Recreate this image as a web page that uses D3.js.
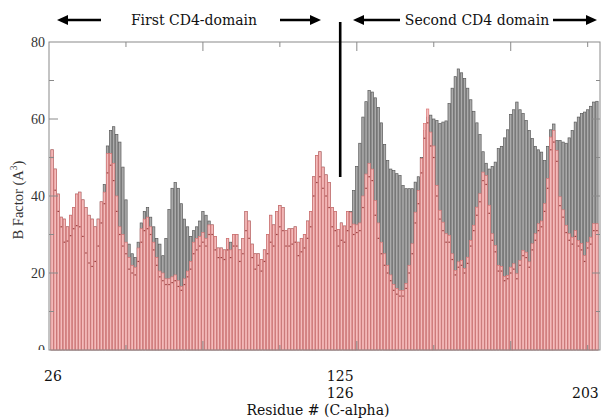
<!DOCTYPE html>
<html>
<head>
<meta charset="utf-8">
<script src="https://cdn.jsdelivr.net/npm/d3@7"></script>
<style>
  body { margin: 0; background: #fff; }
  svg { display: block; }
</style>
</head>
<body>
<svg id="chart" width="606" height="419"></svg>
<script>
/* --- data, residue 26..203 --- */
var firstResidue = 26;
var lastResidue = 203;

// grey bars (behind)
var greyB = [
  52, 47, 40.5, 34.5, 34, 32, 35, 37, 40.5, 41,
  39, 37, 35, 34, 32, 34, 38.5, 43, 53, 57,
  58, 56, 54, 47.5, 39, 27.5, 25, 24, 28, 33,
  36, 37, 34.5, 32, 29, 27.5, 24.5, 29, 36.5, 42,
  43.5, 42, 38, 34, 32, 29.5, 31, 32, 33.5, 36,
  35, 33.5, 32.5, 29.5, 26.5, 26.5, 26, 29, 28, 30,
  30, 26, 29, 36, 33.5, 27.5, 25, 25, 23.5, 26,
  30, 35, 32.5, 36, 37.5, 37, 31, 31.5, 31.5, 32,
  28, 29, 30, 33.5, 36, 45, 50.5, 51.5, 47.5, 45.5,
  43.5, 37, 36, 31.3, 33, 32.2, 36, 36, 41.4, 47.7,
  53.7, 60.5, 64.5, 67.4, 67, 65.5, 63, 59, 53.4, 49.2,
  47, 46.6, 45.8, 45.3, 42.7, 41.9, 41.9, 41.9, 43.6, 45,
  50, 57, 60.5, 61, 60, 59.6, 58.8, 59.2, 59.5, 64,
  68, 71, 73, 72, 70.5, 68, 65, 62, 59, 56,
  51.5, 48.5, 47, 47.7, 48.8, 52.3, 52.9, 55.1, 57.2, 61.2,
  62.4, 64.4, 62.4, 61.4, 59.6, 57, 54.9, 52.9, 52, 51.4,
  49.2, 52.9, 57.2, 58.7, 54.4, 54.4, 54, 53.7, 55.1, 57,
  59.2, 60.5, 61.4, 61.8, 62.4, 63.3, 64.4, 64.6
];

// red bars (front)
var redB = [
  52, 47, 40.5, 34.5, 34, 32, 35, 37, 40.5, 41,
  39, 37, 35, 34, 32, 34, 38.5, 41, 51, 51,
  48.5, 40, 32, 30, 28, 24, 22, 21.5, 26.5, 31.5,
  34, 34.5, 32, 28, 24, 20.5, 20, 18.5, 18.5, 19,
  19.5, 18, 16.5, 18.5, 20.5, 23, 28, 29, 29.5, 30.5,
  29, 32.5, 32.5, 29.5, 26.5, 26.5, 26, 29, 26, 30,
  30, 26, 29, 36, 33.5, 27.5, 25, 25, 23.5, 26,
  30, 35, 32.5, 36, 37.5, 37, 31, 31.5, 31.5, 32,
  28, 29, 30, 33.5, 36, 45, 50.5, 51.5, 47.5, 45.5,
  43.5, 37, 36, 31.3, 33, 32.2, 36, 35.8, 32.7, 32.5,
  33, 40, 45.7, 48.5, 47, 38.8, 33, 28, 25, 22,
  19.5, 17, 16, 15.5, 15.5, 17.3, 22, 27.6, 35.8, 41.4,
  49.7, 58.8, 62.6, 56.6, 53, 42.7, 36.3, 33.2, 30.2, 29.8,
  25, 20.7, 22.9, 23.3, 21.2, 24.1, 28.5, 32.4, 37.1, 40.6,
  46.2, 45.3, 37.6, 30.2, 27.1, 22, 21.7, 19.1, 19.4, 21.5,
  22.4, 19.8, 23.3, 25.9, 25.4, 22.9, 27.6, 30.2, 32.8, 33.5,
  38, 44.5, 55.3, 57, 51.8, 39.8, 36.4, 32.4, 30.2, 29.3,
  31, 28.4, 27.7, 24.5, 28, 29.3, 32.8, 32.8
];

// small dark marks inside the red bars
var dotB = [
  50, 41.5, 36, 32, 28, 28.3, 29.7, 31.5, 32.3, 32,
  29.5, 25.2, 22.6, 21.7, 23, 27, 33, 38, 46, 48,
  44, 36, 30, 27, 25, 21, 20, 19.5, 23, 28,
  31, 31.5, 30, 26, 22, 19, 18, 17, 17, 17.5,
  18, 16.5, 15.5, 17, 19, 21, 25, 26, 27, 28,
  27, 30, 30, 26, 24, 24, 23.5, 26, 24, 27,
  27, 23, 25, 31, 29, 24, 21, 22, 20.5, 23,
  25, 28, 27, 30, 32, 31, 27, 27, 27.5, 28,
  24.5, 25.5, 26.5, 29, 32, 40, 43.5, 45, 42, 40,
  37, 32, 31, 27, 28.5, 28, 31, 32, 30, 30.5,
  31, 37, 42, 45, 44, 35, 29, 25, 22, 20,
  18, 15.5, 14.5, 14, 14, 16, 20, 25, 33, 38,
  46, 55, 59, 53, 50, 40, 34, 31, 28, 28,
  23.5, 19.5, 21.5, 22, 20, 22.5, 27, 31, 35, 38.5,
  44, 43, 35.5, 28.5, 25.5, 20.5, 20.5, 18, 18.5, 20,
  21, 18.5, 22, 24.5, 24, 21.5, 26, 28.5, 31, 32,
  36, 42, 52, 54, 49, 37.5, 34.5, 30.5, 28.5, 27.5,
  29.5, 27, 26, 23, 26.5, 27.5, 31, 31
];

var yTicks = [0, 10, 20, 30, 40, 50, 60, 70, 80];
var yLabels = [0, 20, 40, 60, 80];
var xTicks = [50, 75, 100, 125, 150, 175, 200];
var xLongTicks = [75, 125, 175];

// annotations as they sit in the figure
var splitAt = 119.6;
var domainNames = ["First CD4-domain", "Second CD4 domain"];
var xLabels = [
  {text: "26", at: 26.3, row: 0, anchor: "middle"},
  {text: "125", at: splitAt, row: 0, anchor: "middle"},
  {text: "126", at: splitAt, row: 1, anchor: "middle"},
  {text: "203", at: 203.6, row: 1, anchor: "end"}
];

/* --- svg parameters --- */
var plotL = 49, plotR = 600, plotT = 42, plotB = 350;
var svg = d3.select("#chart");

var residues = d3.range(firstResidue, lastResidue + 1);
var rows = residues.map((r, i) => ({r: r, grey: greyB[i], red: redB[i], dot: dotB[i]}));

var x = d3.scaleLinear().domain([25, 204]).range([plotL, plotR]);
var y = d3.scaleLinear().domain([0, 80]).range([plotB, plotT]);
var bw = 2.4;

// grey bars
svg.append("g")
  .attr("fill", "#ababab")
  .attr("stroke", "#5a5a5a")
  .attr("stroke-width", 0.7)
  .selectAll("rect")
  .data(rows)
  .join("rect")
  .attr("x", d => x(d.r) - bw / 2)
  .attr("width", bw)
  .attr("y", d => y(d.grey))
  .attr("height", d => plotB - y(d.grey));

// red bars
svg.append("g")
  .attr("fill", "#f3bcbc")
  .attr("stroke", "#da7272")
  .attr("stroke-width", 0.65)
  .selectAll("rect")
  .data(rows)
  .join("rect")
  .attr("x", d => x(d.r) - bw / 2)
  .attr("width", bw)
  .attr("y", d => y(d.red))
  .attr("height", d => plotB - y(d.red));

// dark marks
svg.append("g")
  .attr("fill", "#a04545")
  .selectAll("rect")
  .data(rows)
  .join("rect")
  .attr("x", d => x(d.r) - 0.8)
  .attr("width", 1.6)
  .attr("y", d => y(d.dot) - 0.6)
  .attr("height", 1.2);

/* --- frame and ticks --- */
var frame = svg.append("g").attr("stroke", "#8a8a8a").attr("stroke-width", 1).attr("fill", "none");
frame.append("rect")
  .attr("x", plotL).attr("y", plotT)
  .attr("width", plotR - plotL).attr("height", plotB - plotT);

frame.append("g").selectAll("line")
  .data(yTicks.slice(1, -1))
  .join("line")
  .attr("x1", plotL).attr("x2", d => plotL + (d % 20 == 0 ? 9 : 5))
  .attr("y1", d => y(d)).attr("y2", d => y(d));
frame.append("g").selectAll("line")
  .data(yTicks.slice(1, -1))
  .join("line")
  .attr("x1", plotR).attr("x2", d => plotR - (d % 20 == 0 ? 8 : 4))
  .attr("y1", d => y(d)).attr("y2", d => y(d));
frame.append("g").selectAll("line")
  .data(xTicks)
  .join("line")
  .attr("x1", d => x(d)).attr("x2", d => x(d))
  .attr("y1", plotT).attr("y2", d => plotT + (xLongTicks.includes(d) ? 9 : 5));
frame.append("g").selectAll("line")
  .data(xTicks)
  .join("line")
  .attr("x1", d => x(d)).attr("x2", d => x(d))
  .attr("y1", plotB).attr("y2", d => plotB - (xLongTicks.includes(d) ? 9 : 5));

// y labels (the 0 is cut at the base line in the figure)
svg.append("clipPath").attr("id", "zeroclip")
  .append("rect").attr("x", 0).attr("y", 0).attr("width", 49).attr("height", plotB);
svg.append("g")
  .attr("font-family", "Liberation Serif, Times New Roman, serif")
  .attr("font-size", 14)
  .attr("fill", "#333")
  .attr("text-anchor", "end")
  .attr("clip-path", "url(#zeroclip)")
  .selectAll("text")
  .data(yLabels)
  .join("text")
  .attr("x", 45)
  .attr("y", d => y(d) + 5)
  .text(d => d);

var yTitle = svg.append("text")
  .attr("transform", "translate(23,200) rotate(-90)")
  .attr("text-anchor", "middle")
  .attr("font-family", "Liberation Serif, Times New Roman, serif")
  .attr("font-size", 14.5)
  .attr("fill", "#333");
yTitle.append("tspan").text("B Factor (A");
yTitle.append("tspan").attr("font-size", 9.5).attr("dy", -6).text("3");
yTitle.append("tspan").attr("dy", 6).text(")");

/* --- x labels --- */
var typeFont = "DejaVu Serif, serif";
svg.append("g")
  .attr("font-family", typeFont)
  .attr("font-size", 14)
  .attr("fill", "#111")
  .selectAll("text")
  .data(xLabels)
  .join("text")
  .attr("x", d => x(d.at))
  .attr("y", d => 381 + d.row * 17)
  .attr("text-anchor", d => d.anchor)
  .text(d => d.text);

svg.append("text")
  .attr("x", 318).attr("y", 415)
  .attr("text-anchor", "middle")
  .attr("font-family", typeFont)
  .attr("font-size", 14)
  .attr("fill", "#111")
  .text("Residue # (C-alpha)");

/* --- domain arrows --- */
function arrow(x1, x2, yy) {
  var dir = x2 > x1 ? 1 : -1;
  svg.append("line")
    .attr("x1", x1).attr("x2", x2 - dir * 8)
    .attr("y1", yy).attr("y2", yy)
    .attr("stroke", "#000").attr("stroke-width", 2.6);
  svg.append("path")
    .attr("d", "M" + x2 + "," + yy + "L" + (x2 - dir * 11) + "," + (yy - 5) + "L" + (x2 - dir * 11) + "," + (yy + 5) + "Z")
    .attr("fill", "#000");
}
var ay = 20;
arrow(101, 57, ay);
arrow(280, 321, ay);
arrow(400, 353, ay);
arrow(553, 597, ay);

svg.append("g")
  .attr("font-family", typeFont)
  .attr("font-size", 14)
  .attr("fill", "#111")
  .attr("text-anchor", "middle")
  .selectAll("text")
  .data(domainNames)
  .join("text")
  .attr("x", (d, i) => i == 0 ? 194 : 477)
  .attr("y", 25)
  .text(d => d);

// divider between the domains
svg.append("line")
  .attr("x1", x(splitAt)).attr("x2", x(splitAt))
  .attr("y1", 22).attr("y2", 177)
  .attr("stroke", "#000").attr("stroke-width", 2.6);
</script>
</body>
</html>
